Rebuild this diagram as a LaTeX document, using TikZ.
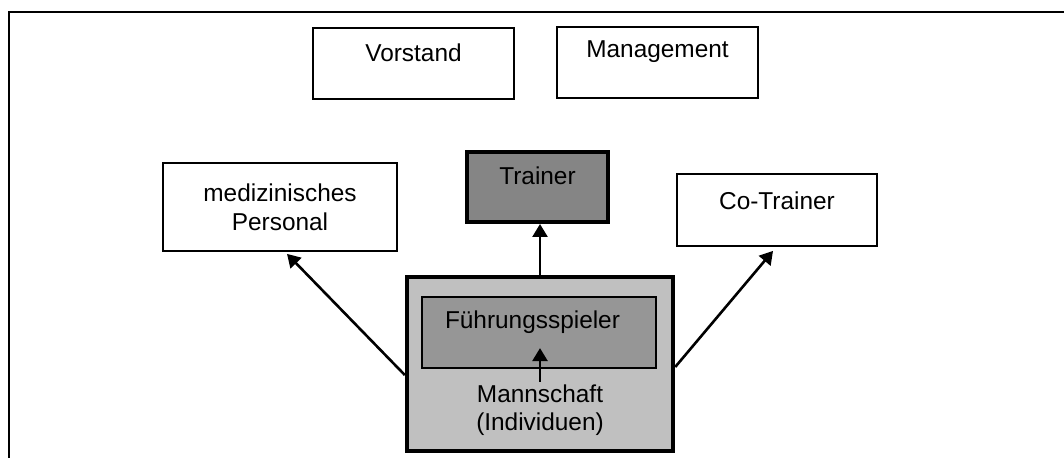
\documentclass[tikz,border=0pt]{standalone}
\usepackage{fontspec}
\setmainfont{Liberation Sans}
\usepackage{xcolor}
\usepackage{tikz}
\usetikzlibrary{calc,arrows.meta}
\definecolor{framec}{HTML}{000000}
\definecolor{dark}{HTML}{858585}
\definecolor{mid}{HTML}{969696}
\definecolor{light}{HTML}{C0C0C0}
\tikzset{
  frame/.style={draw=framec, line width=1.3pt},
  box/.style={draw=black, fill=white, line width=0.9pt, inner sep=0pt, font=\fontsize{12.2}{14.5}\selectfont},
  boss/.style={box, fill=dark, line width=2pt},
  team/.style={draw=black, fill=light, line width=2.2pt, inner sep=0pt},
  core/.style={box, fill=mid, line width=1.1pt},
  lab/.style={inner sep=1pt, font=\fontsize{12.2}{14}\selectfont, align=center},
  arr/.style={draw=black, line width=1.3pt, -{Triangle[length=6.5pt,width=7.5pt]}},
}
\begin{document}
\begin{tikzpicture}[x=0.5pt, y=-0.5pt]
  \useasboundingbox (0,0) rectangle (1064,458);
  \draw[frame] (9,458) -- (9,12) -- (1064,12);
  % upper row
  \node[box, minimum width=100.5pt, text height=16.9pt, text depth=18.6pt] (vorstand) at (413.5,63.5) {Vorstand};
  \node[box, minimum width=100.5pt, text height=15.5pt, text depth=20pt] (management) at (657.5,62.5) {Management};
  % middle row
  \node[box, minimum width=117pt, minimum height=44pt, align=center] (med) at (280,207) {medizinisches\\Personal};
  \node[boss, minimum width=70.5pt, text height=16.5pt, text depth=18.5pt] (trainer) at (537.5,187) {Trainer};
  \node[box, minimum width=100pt, text height=17.7pt, text depth=18.3pt] (cotrainer) at (777,210) {Co-Trainer};
  % team
  \node[team, minimum width=133pt, minimum height=87pt] (team) at (540,364) {};
  \node[core, text width=94pt, inner xsep=11.5pt, align=left, text height=16pt, text depth=19.5pt] (fuehr) at (539,332.5) {Führungsspieler};
  \node[lab, anchor=north] (mann) at (540,382) {Mannschaft\\(Individuen)};
  \draw[arr, shorten >=-10.5pt] (mann.north) -- (mann.north |- fuehr.south);
  \draw[arr] (team.north) -- (team.north |- trainer.south);
  \draw[arr] ([yshift=-5.5pt]team.west) -- ([xshift=3.5pt,yshift=-1pt]med.south);
  \draw[arr] ([yshift=-1.5pt]team.east) -- ([xshift=-2pt,yshift=-2pt]cotrainer.south);
\end{tikzpicture}
\end{document}
